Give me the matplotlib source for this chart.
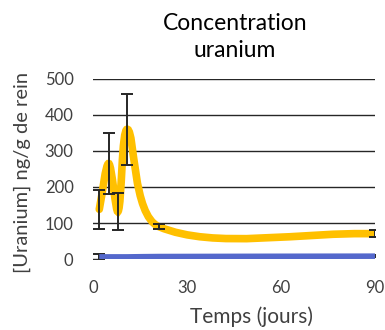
import numpy as np
import matplotlib
matplotlib.use("Agg")
from matplotlib import pyplot as plt
from matplotlib.path import Path
from matplotlib.patches import PathPatch

plt.rcParams["font.family"] = ["Lato", "DejaVu Sans"]

# data
days = [2, 5, 8, 11, 21, 90]
uranium_a = [138, 265, 132, 360, 90, 70]
err_a = [55, 85, 50, 98, 7, 10]
uranium_b = [6, 6, 6, 6, 7, 8]
err_b = [9, 2, 2, 2, 2, 2]

xticks = [0, 30, 60, 90]
yticks = [0, 100, 200, 300, 400, 500]


def smooth_path(ax, xs, ys):
    """Excel-like smoothed line: cubic Bezier segments built in display space."""
    pts = ax.transData.transform(np.column_stack([xs, ys]))
    n = len(pts)
    d = [np.hypot(*(pts[i + 1] - pts[i])) for i in range(n - 1)]
    tang = []
    for i in range(n):
        if i == 0:
            tang.append((pts[1] - pts[0]) / d[0])
        elif i == n - 1:
            tang.append((pts[-1] - pts[-2]) / d[-1])
        else:
            tang.append((pts[i + 1] - pts[i - 1]) / (d[i - 1] + d[i]))
    verts = [pts[0]]
    codes = [Path.MOVETO]
    for i in range(n - 1):
        verts += [pts[i] + tang[i] * d[i] / 3, pts[i + 1] - tang[i + 1] * d[i] / 3, pts[i + 1]]
        codes += [Path.CURVE4] * 3
    verts = ax.transData.inverted().transform(np.array(verts))
    return Path(verts, codes)


fig = plt.figure(figsize=(3.85, 3.3), dpi=100)
ax = fig.add_axes([0.2416, 0.215, 0.7324, 0.546])
ax.set_xlim(0, 90)
ax.set_ylim(0, 500)

for s in ax.spines.values():
    s.set_visible(False)
ax.set_yticks(yticks)
ax.set_xticks(xticks)
ax.tick_params(length=0, labelsize=12, colors="#404040", pad=14)
ax.tick_params(axis="x", pad=15)
ax.grid(axis="y", color="#262626", lw=1)
ax.set_axisbelow(True)

ax.add_patch(PathPatch(smooth_path(ax, days, uranium_a), fill=False,
                       edgecolor="#FFC000", lw=5.5, capstyle="round", zorder=3))
ax.add_patch(PathPatch(smooth_path(ax, days, uranium_b), fill=False,
                       edgecolor="#5468CC", lw=4, zorder=3))

ax.errorbar(days, uranium_a, yerr=err_a, fmt="none", ecolor="#262626",
            elinewidth=1.4, capsize=4.5, capthick=1.4, zorder=4)
ax.errorbar(days, uranium_b, yerr=err_b, fmt="none", ecolor="#262626",
            elinewidth=1.4, capsize=4.5, capthick=1.4, zorder=2)

fig.text(0.61, 0.888, "Concentration\nuranium", ha="center", va="center",
         fontsize=16.5, color="#000000", linespacing=1.35)
fig.text(0.654, 0.04, "Temps (jours)", ha="center", va="center",
         fontsize=15, color="#404040")
fig.text(0.058, 0.476, "[Uranium] ng/g de rein", ha="center", va="center",
         rotation=90, fontsize=14.5, color="#404040")

fig.savefig("out.png", dpi=100)
